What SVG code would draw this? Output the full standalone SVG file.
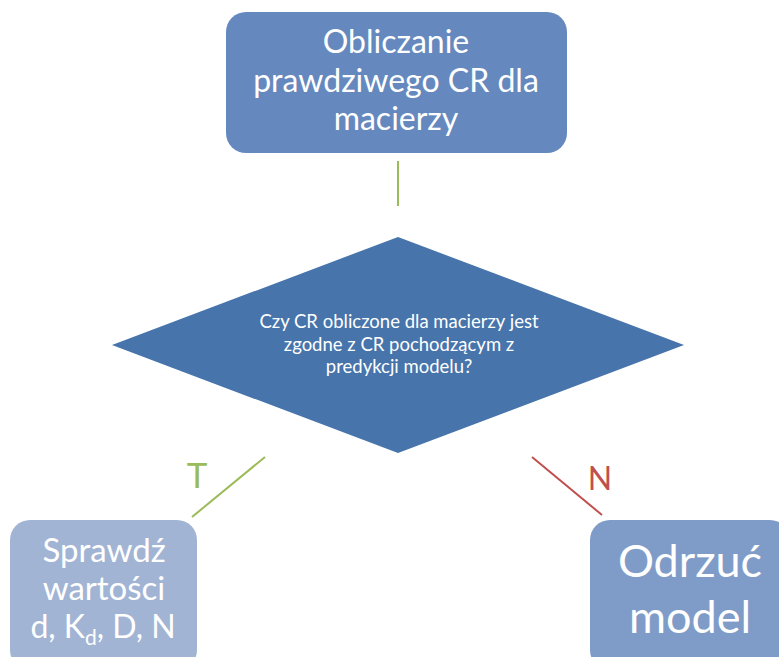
<svg xmlns="http://www.w3.org/2000/svg" width="779" height="657" viewBox="0 0 779 657">
  <style>
    .lbl { font-family: Lato, "Open Sans", "DejaVu Sans", sans-serif; fill: #ffffff; text-anchor: middle; }
    .conn { fill: none; stroke-width: 2; }
  </style>
  <rect width="779" height="657" fill="#ffffff"/>

  <g id="connectors">
    <line class="conn" x1="398" y1="161" x2="398" y2="206" stroke="#9bbb59"/>
    <line class="conn" x1="265" y1="457" x2="192" y2="517" stroke="#9bbb59"/>
    <line class="conn" x1="532" y1="457" x2="602" y2="515" stroke="#c0504d"/>
    <text x="197" y="488" font-family="Lato, 'Open Sans', sans-serif" font-size="35" fill="#9bbb59" text-anchor="middle">T</text>
    <text x="600" y="490" font-family="Lato, 'Open Sans', sans-serif" font-size="32" fill="#c0504d" text-anchor="middle">N</text>
  </g>

  <g id="compute">
    <rect x="226" y="12" width="341" height="141" rx="20" fill="#6589be"/>
    <text class="lbl" font-size="32" x="396" y="53">Obliczanie</text>
    <text class="lbl" font-size="32" x="396" y="92">prawdziwego CR dla</text>
    <text class="lbl" font-size="32" x="396" y="130">macierzy</text>
  </g>

  <g id="decision">
    <polygon points="398,237 684,345 398,453 112,345" fill="#4674ab"/>
    <text class="lbl" font-size="18.5" x="399" y="328">Czy CR obliczone dla macierzy jest</text>
    <text class="lbl" font-size="18.5" x="399" y="351">zgodne z CR pochodzącym z</text>
    <text class="lbl" font-size="18.5" x="399" y="373">predykcji modelu?</text>
  </g>

  <g id="check">
    <rect x="10" y="520" width="187" height="150" rx="20" fill="#a2b4d4"/>
    <text class="lbl" font-size="33" x="104" y="562">Sprawdź</text>
    <text class="lbl" font-size="33" x="104" y="600">wartości</text>
    <text class="lbl" font-size="32" x="103" y="638">d, K<tspan font-size="21" dy="7">d</tspan><tspan dy="-7">, D, N</tspan></text>
  </g>

  <g id="reject">
    <rect x="590" y="520" width="200" height="150" rx="20" fill="#7f9cc8"/>
    <text class="lbl" font-size="45" x="690" y="577">Odrzuć</text>
    <text class="lbl" font-size="45" x="690" y="633">model</text>
  </g>
</svg>
